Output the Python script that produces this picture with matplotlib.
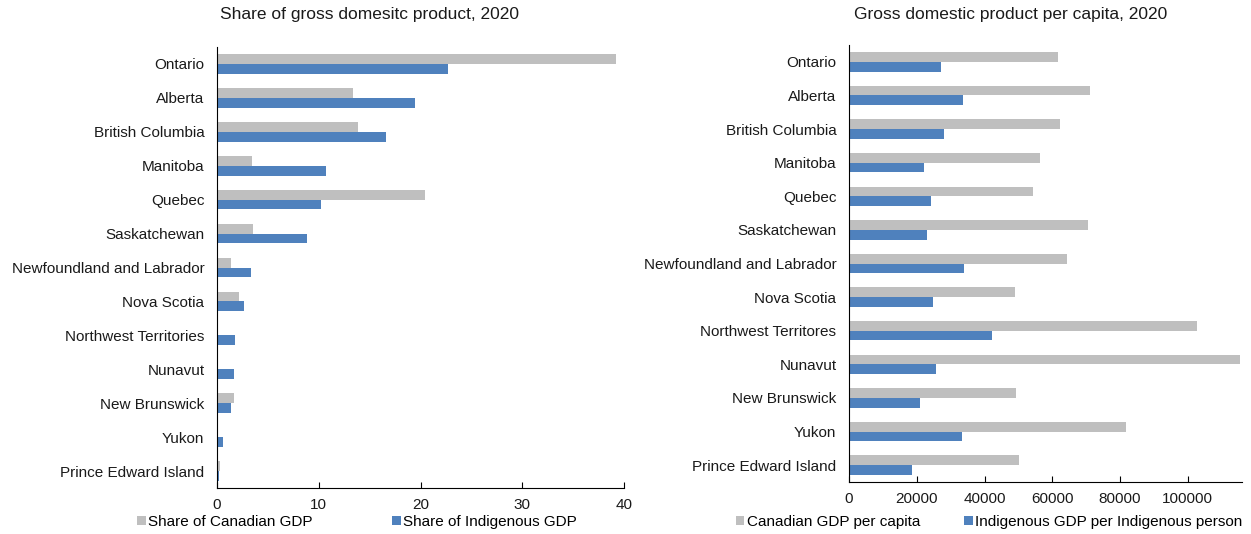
import matplotlib as mpl
mpl.use('Agg')
import matplotlib.pyplot as plt
import numpy as np

plt.rcParams['font.family'] = ['Liberation Sans', 'DejaVu Sans']
plt.rcParams['font.size'] = 11

provinces_share = ["Ontario", "Alberta", "British Columbia", "Manitoba", "Quebec",
                   "Saskatchewan", "Newfoundland and Labrador", "Nova Scotia",
                   "Northwest Territories", "Nunavut", "New Brunswick", "Yukon",
                   "Prince Edward Island"]
share_canadian = [39.2, 13.4, 13.9, 3.4, 20.4, 3.5, 1.4, 2.2, 0.1, 0.1, 1.7, 0.1, 0.3]
share_indigenous = [22.7, 19.5, 16.6, 10.7, 10.2, 8.8, 3.3, 2.7, 1.8, 1.7, 1.4, 0.6, 0.2]

provinces_pc = ["Ontario", "Alberta", "British Columbia", "Manitoba", "Quebec",
                "Saskatchewan", "Newfoundland and Labrador", "Nova Scotia",
                "Northwest Territores", "Nunavut", "New Brunswick", "Yukon",
                "Prince Edward Island"]
gdp_pc_canadian = [61700, 71000, 62400, 56500, 54200, 70600, 64300, 48900,
                   102800, 115300, 49400, 81800, 50100]
gdp_pc_indigenous = [27300, 33600, 28100, 22100, 24300, 22900, 34000, 24700,
                     42200, 25800, 20900, 33300, 18700]

grey = '#BFBFBF'
blue = '#4F81BD'
txt = '#1a1a1a'
bar_h = 0.29

fig = plt.figure(figsize=(12.51, 5.34), dpi=100)
W, H = 1251.0, 534.0
ax1 = fig.add_axes([217 / W, 1 - 488 / H, 407 / W, 441 / H])
ax2 = fig.add_axes([849 / W, 1 - 482 / H, 393 / W, 437 / H])


def draw_panel(ax, labels, a, b, la, lb, xmax, ticks):
    idx = np.arange(len(labels))
    r1 = ax.barh(idx - bar_h / 2, a, bar_h, color=grey, label=la)
    r2 = ax.barh(idx + bar_h / 2, b, bar_h, color=blue, label=lb)
    ax.set_yticks(idx)
    ax.set_yticklabels(labels, fontsize=11, color=txt)
    ax.set_ylim(len(labels) - 0.5, -0.5)
    ax.set_xlim(0, xmax)
    ax.set_xticks(ticks)
    ax.tick_params(axis='y', length=0, pad=9)
    ax.tick_params(axis='x', direction='in', length=4, labelsize=11, pad=7,
                   labelcolor=txt)
    for s in ('top', 'right'):
        ax.spines[s].set_visible(False)
    ax.spines['left'].set_color('black')
    ax.spines['bottom'].set_color('black')
    return r1, r2


h1 = draw_panel(ax1, provinces_share, share_canadian, share_indigenous,
                "Share of Canadian GDP", "Share of Indigenous GDP",
                40, [0, 10, 20, 30, 40])
h2 = draw_panel(ax2, provinces_pc, gdp_pc_canadian, gdp_pc_indigenous,
                "Canadian GDP per capita", "Indigenous GDP per Indigenous person",
                116000, [0, 20000, 40000, 60000, 80000, 100000])

fig.text(370 / W, 1 - 14 / H, "Share of gross domesitc product, 2020",
         ha='center', va='center', fontsize=12.5, color=txt)
fig.text(1011 / W, 1 - 14 / H, "Gross domestic product per capita, 2020",
         ha='center', va='center', fontsize=12.5, color=txt)

for handles, cx, gap in ((h1, 357, 5.2), (h2, 989, 2.9)):
    fig.legend(handles=list(handles), loc='center', ncol=2,
               bbox_to_anchor=(cx / W, 1 - 522 / H), frameon=False,
               handlelength=0.55, handleheight=0.55, handletextpad=0.15,
               columnspacing=gap, fontsize=11, borderpad=0)

fig.savefig("out.png", dpi=100)
